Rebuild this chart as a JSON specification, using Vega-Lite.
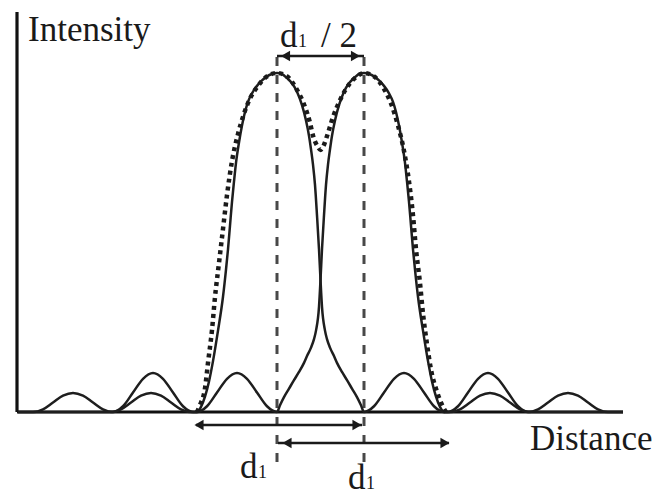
{
  "$schema": "https://vega.github.io/schema/vega-lite/v6.json",
  "width": 663,
  "height": 497,
  "padding": 0,
  "autosize": {"type": "none"},
  "background": "white",
  "config": {"view": {"stroke": null}},
  "datasets": {
    "left": [
      {"x": 18, "v": 0}, {"x": 33, "v": 0}, {"x": 43, "v": 0.008}, {"x": 53, "v": 0.028}, {"x": 63, "v": 0.048},
      {"x": 73, "v": 0.056}, {"x": 83, "v": 0.048}, {"x": 93, "v": 0.028}, {"x": 103, "v": 0.008}, {"x": 113, "v": 0},
      {"x": 123, "v": 0.017}, {"x": 133, "v": 0.0575}, {"x": 143, "v": 0.098}, {"x": 153, "v": 0.115}, {"x": 163, "v": 0.098},
      {"x": 173, "v": 0.0575}, {"x": 183, "v": 0.017}, {"x": 193, "v": 0}, {"x": 197, "v": 0}, {"x": 201, "v": 0.015},
      {"x": 205, "v": 0.045}, {"x": 209, "v": 0.09}, {"x": 213, "v": 0.15}, {"x": 218, "v": 0.24}, {"x": 223, "v": 0.34},
      {"x": 226, "v": 0.42}, {"x": 228, "v": 0.48}, {"x": 230, "v": 0.55}, {"x": 232, "v": 0.62}, {"x": 234, "v": 0.68},
      {"x": 236, "v": 0.735}, {"x": 239, "v": 0.795}, {"x": 242, "v": 0.845}, {"x": 245, "v": 0.885}, {"x": 248, "v": 0.915},
      {"x": 252, "v": 0.94}, {"x": 257, "v": 0.962}, {"x": 262, "v": 0.978}, {"x": 267, "v": 0.99}, {"x": 272, "v": 0.997},
      {"x": 277, "v": 1},
      {"x": 282, "v": 0.997}, {"x": 287, "v": 0.985}, {"x": 292, "v": 0.97}, {"x": 297, "v": 0.945}, {"x": 302, "v": 0.905},
      {"x": 306, "v": 0.86}, {"x": 309, "v": 0.815}, {"x": 311, "v": 0.775}, {"x": 313, "v": 0.73}, {"x": 315, "v": 0.67},
      {"x": 317, "v": 0.58}, {"x": 319, "v": 0.48}, {"x": 320.5, "v": 0.39}, {"x": 322, "v": 0.31}, {"x": 325, "v": 0.24},
      {"x": 327, "v": 0.215}, {"x": 330, "v": 0.19}, {"x": 334, "v": 0.165}, {"x": 337, "v": 0.145}, {"x": 342, "v": 0.118},
      {"x": 347, "v": 0.094}, {"x": 352, "v": 0.069}, {"x": 357, "v": 0.044}, {"x": 361, "v": 0.02}, {"x": 364, "v": 0},
      {"x": 374, "v": 0.017}, {"x": 384, "v": 0.0575}, {"x": 394, "v": 0.098}, {"x": 404, "v": 0.115}, {"x": 414, "v": 0.098},
      {"x": 424, "v": 0.0575}, {"x": 434, "v": 0.017}, {"x": 444, "v": 0}, {"x": 450, "v": 0}, {"x": 460, "v": 0.008},
      {"x": 470, "v": 0.028}, {"x": 480, "v": 0.048}, {"x": 490, "v": 0.056}, {"x": 500, "v": 0.048}, {"x": 510, "v": 0.028},
      {"x": 520, "v": 0.008}, {"x": 530, "v": 0}, {"x": 623, "v": 0}
    ],
    "right": [
      {"x": 18, "v": 0}, {"x": 111, "v": 0}, {"x": 121, "v": 0.008}, {"x": 131, "v": 0.028}, {"x": 141, "v": 0.048},
      {"x": 151, "v": 0.056}, {"x": 161, "v": 0.048}, {"x": 171, "v": 0.028}, {"x": 181, "v": 0.008}, {"x": 191, "v": 0},
      {"x": 197, "v": 0}, {"x": 207, "v": 0.017}, {"x": 217, "v": 0.0575}, {"x": 227, "v": 0.098}, {"x": 237, "v": 0.115},
      {"x": 247, "v": 0.098}, {"x": 257, "v": 0.0575}, {"x": 267, "v": 0.017}, {"x": 277, "v": 0},
      {"x": 280, "v": 0.02}, {"x": 284, "v": 0.044}, {"x": 289, "v": 0.069}, {"x": 294, "v": 0.094}, {"x": 299, "v": 0.118},
      {"x": 304, "v": 0.145}, {"x": 307, "v": 0.165}, {"x": 311, "v": 0.19}, {"x": 314, "v": 0.215}, {"x": 316, "v": 0.24},
      {"x": 319, "v": 0.31}, {"x": 320.5, "v": 0.39}, {"x": 322, "v": 0.48}, {"x": 324, "v": 0.58}, {"x": 326, "v": 0.67},
      {"x": 328, "v": 0.73}, {"x": 330, "v": 0.775}, {"x": 332, "v": 0.815}, {"x": 335, "v": 0.86}, {"x": 339, "v": 0.905},
      {"x": 344, "v": 0.945}, {"x": 349, "v": 0.97}, {"x": 354, "v": 0.985}, {"x": 359, "v": 0.997}, {"x": 364, "v": 1},
      {"x": 369, "v": 0.997}, {"x": 374, "v": 0.99}, {"x": 379, "v": 0.978}, {"x": 384, "v": 0.962}, {"x": 389, "v": 0.94},
      {"x": 393, "v": 0.915}, {"x": 396, "v": 0.885}, {"x": 399, "v": 0.845}, {"x": 402, "v": 0.795}, {"x": 405, "v": 0.735},
      {"x": 407, "v": 0.68}, {"x": 409, "v": 0.62}, {"x": 411, "v": 0.55}, {"x": 413, "v": 0.48}, {"x": 415, "v": 0.42},
      {"x": 418, "v": 0.34}, {"x": 423, "v": 0.24}, {"x": 428, "v": 0.15}, {"x": 432, "v": 0.09}, {"x": 436, "v": 0.045},
      {"x": 440, "v": 0.015}, {"x": 444, "v": 0},
      {"x": 448, "v": 0}, {"x": 458, "v": 0.017}, {"x": 468, "v": 0.0575}, {"x": 478, "v": 0.098}, {"x": 488, "v": 0.115},
      {"x": 498, "v": 0.098}, {"x": 508, "v": 0.0575}, {"x": 518, "v": 0.017}, {"x": 528, "v": 0}, {"x": 538, "v": 0.008},
      {"x": 548, "v": 0.028}, {"x": 558, "v": 0.048}, {"x": 568, "v": 0.056}, {"x": 578, "v": 0.048}, {"x": 588, "v": 0.028},
      {"x": 598, "v": 0.008}, {"x": 608, "v": 0}, {"x": 623, "v": 0}
    ],
    "combined": [
      {"x": 197, "v": 0}, {"x": 200, "v": 0.021}, {"x": 205, "v": 0.07}, {"x": 208, "v": 0.145}, {"x": 212, "v": 0.242},
      {"x": 215, "v": 0.339}, {"x": 219, "v": 0.44}, {"x": 223, "v": 0.54}, {"x": 227, "v": 0.64}, {"x": 232, "v": 0.74},
      {"x": 238, "v": 0.82}, {"x": 244, "v": 0.88}, {"x": 250, "v": 0.925}, {"x": 258, "v": 0.962}, {"x": 267, "v": 0.99},
      {"x": 277, "v": 1},
      {"x": 287, "v": 0.99}, {"x": 297, "v": 0.95}, {"x": 305, "v": 0.9}, {"x": 310, "v": 0.853}, {"x": 313, "v": 0.815},
      {"x": 318, "v": 0.782}, {"x": 320.5, "v": 0.773}, {"x": 323, "v": 0.782}, {"x": 328, "v": 0.823}, {"x": 333, "v": 0.87},
      {"x": 340, "v": 0.92}, {"x": 350, "v": 0.97}, {"x": 357, "v": 0.99}, {"x": 364, "v": 1}, {"x": 374, "v": 0.99},
      {"x": 383, "v": 0.958}, {"x": 391, "v": 0.91}, {"x": 398, "v": 0.845}, {"x": 404, "v": 0.77}, {"x": 409, "v": 0.68},
      {"x": 413, "v": 0.58}, {"x": 416, "v": 0.48}, {"x": 420, "v": 0.38}, {"x": 423, "v": 0.29}, {"x": 427, "v": 0.2},
      {"x": 431, "v": 0.125}, {"x": 437, "v": 0.06}, {"x": 443, "v": 0.015}, {"x": 446, "v": 0}
    ],
    "axes": [
      {"x": 17, "v": 0, "x2": 17, "v2": 1.18},
      {"x": 17, "v": 0, "x2": 623, "v2": 0}
    ],
    "peaks": [
      {"x": 277, "v": -0.1475, "v2": 1.047},
      {"x": 364, "v": -0.1475, "v2": 1.047}
    ],
    "spans": [
      {"x": 277, "x2": 364, "v": 1.05},
      {"x": 196, "x2": 362, "v": -0.0383},
      {"x": 278, "x2": 449, "v": -0.0914}
    ],
    "heads": [
      {"x": 285.5, "v": 1.05, "shape": "triangle-left"},
      {"x": 355.5, "v": 1.05, "shape": "triangle-right"},
      {"x": 199, "v": -0.0383, "shape": "triangle-left"},
      {"x": 357, "v": -0.0383, "shape": "triangle-right"},
      {"x": 287, "v": -0.0914, "shape": "triangle-left"},
      {"x": 445, "v": -0.0914, "shape": "triangle-right"}
    ],
    "labels": [
      {"x": 28, "v": 1.0944, "text": "Intensity", "size": 35},
      {"x": 280, "v": 1.0767, "text": "d", "size": 35},
      {"x": 298, "v": 1.0767, "text": "1", "size": 18},
      {"x": 321, "v": 1.0767, "text": "/ 2", "size": 35},
      {"x": 240, "v": -0.1947, "text": "d", "size": 35},
      {"x": 258, "v": -0.1947, "text": "1", "size": 18},
      {"x": 348, "v": -0.2271, "text": "d", "size": 35},
      {"x": 366, "v": -0.2271, "text": "1", "size": 18},
      {"x": 530, "v": -0.1121, "text": "Distance", "size": 35}
    ]
  },
  "layer": [
    {
      "data": {"name": "peaks"},
      "mark": {"type": "rule", "color": "#484848", "strokeWidth": 3, "strokeDash": [9, 9]},
      "encoding": {
        "x": {"field": "x", "type": "quantitative", "scale": {"domain": [0, 663], "nice": false, "zero": false}, "axis": null},
        "y": {"field": "v", "type": "quantitative", "scale": {"domain": [-0.25074, 1.21534], "nice": false, "zero": false}, "axis": null},
        "y2": {"field": "v2"}
      }
    },
    {
      "data": {"name": "axes"},
      "mark": {"type": "rule", "color": "#111111", "strokeWidth": 3.2},
      "encoding": {
        "x": {"field": "x", "type": "quantitative"},
        "y": {"field": "v", "type": "quantitative"},
        "x2": {"field": "x2"},
        "y2": {"field": "v2"}
      }
    },
    {
      "data": {"name": "left"},
      "mark": {"type": "line", "color": "#1e1e1e", "strokeWidth": 2.5, "interpolate": "monotone"},
      "encoding": {
        "x": {"field": "x", "type": "quantitative"},
        "y": {"field": "v", "type": "quantitative"}
      }
    },
    {
      "data": {"name": "right"},
      "mark": {"type": "line", "color": "#1e1e1e", "strokeWidth": 2.5, "interpolate": "monotone"},
      "encoding": {
        "x": {"field": "x", "type": "quantitative"},
        "y": {"field": "v", "type": "quantitative"}
      }
    },
    {
      "data": {"name": "combined"},
      "mark": {"type": "line", "color": "#1a1a1a", "strokeWidth": 4.5, "strokeDash": [4, 4], "interpolate": "monotone"},
      "encoding": {
        "x": {"field": "x", "type": "quantitative"},
        "y": {"field": "v", "type": "quantitative"}
      }
    },
    {
      "data": {"name": "spans"},
      "mark": {"type": "rule", "color": "#1a1a1a", "strokeWidth": 2.4},
      "encoding": {
        "x": {"field": "x", "type": "quantitative"},
        "x2": {"field": "x2"},
        "y": {"field": "v", "type": "quantitative"}
      }
    },
    {
      "data": {"name": "heads"},
      "mark": {"type": "point", "filled": true, "color": "#1a1a1a", "size": 110, "opacity": 1},
      "encoding": {
        "x": {"field": "x", "type": "quantitative"},
        "y": {"field": "v", "type": "quantitative"},
        "shape": {"field": "shape", "type": "nominal", "scale": null}
      }
    },
    {
      "data": {"name": "labels"},
      "mark": {"type": "text", "font": "Liberation Serif", "align": "left", "baseline": "alphabetic", "color": "#1a1a1a"},
      "encoding": {
        "x": {"field": "x", "type": "quantitative"},
        "y": {"field": "v", "type": "quantitative"},
        "text": {"field": "text"},
        "size": {"field": "size", "type": "quantitative", "scale": null}
      }
    }
  ]
}
